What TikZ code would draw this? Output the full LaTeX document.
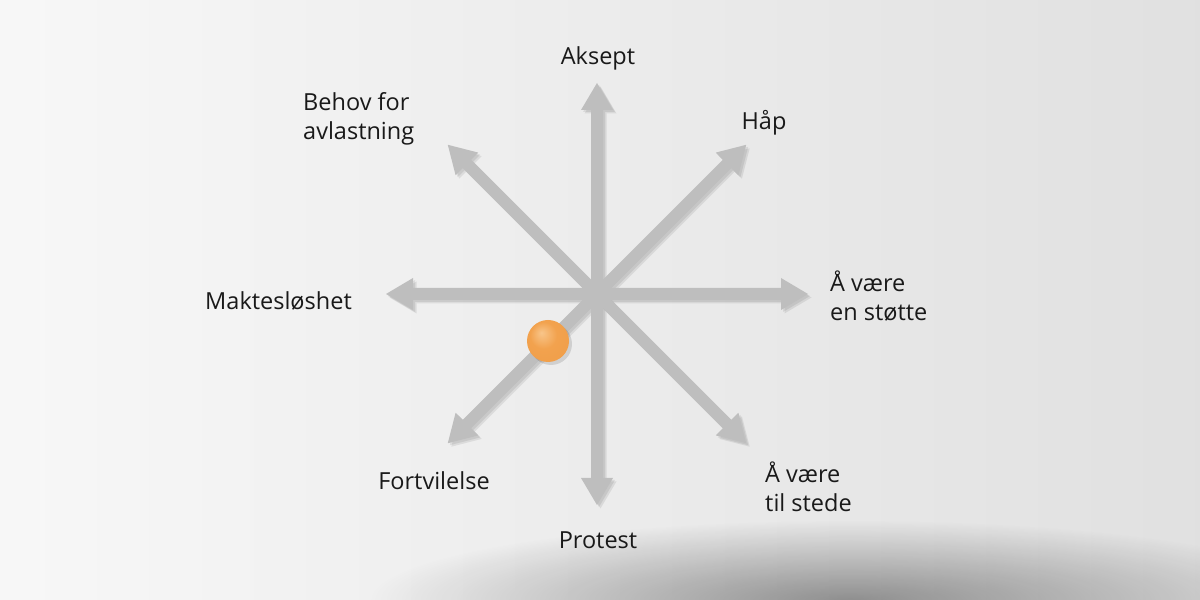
\documentclass[tikz,border=0pt]{standalone}
\usepackage{fontspec}
\setmainfont{Open Sans}
\usetikzlibrary{fadings,calc}
\definecolor{spokegray}{HTML}{BEBEBE}
\definecolor{ballhi}{HTML}{F8C58A}
\definecolor{ballmid}{HTML}{F2A24E}
\definecolor{ballrim}{HTML}{E58A2E}
\pgfdeclareradialshading{orangeball}{\pgfpoint{-8bp}{10bp}}{%
  color(0bp)=(ballhi); color(16bp)=(ballmid);
  color(40bp)=(ballmid!80!ballrim); color(50bp)=(ballrim)}
\tikzfading[name=softoval, inner color=transparent!0, outer color=transparent!100]
\tikzset{
  spoke/.style={fill=spokegray},
  spokeshade/.style={fill=black, fill opacity=.08},
  lbl/.style={font=\fontsize{23.5}{29}\selectfont, text=black!90, align=left, inner sep=0pt},
}
% one arrow from the hub, pointing along +x
\newcommand{\spokepath}{(0,-6) -- (184,-6) -- (184,-16) -- (211,0) -- (184,16) -- (184,6) -- (0,6) -- cycle}

\begin{document}
\begin{tikzpicture}[x=1pt,y=1pt]
\useasboundingbox (0,0) rectangle (1200,600);
% background
\shade[left color=black!3, right color=black!12] (0,0) rectangle (1200,600);
\begin{scope}
\clip (0,0) rectangle (1200,600);
\fill[black, fill opacity=.38, path fading=softoval] (850,0) ellipse (480 and 80);
\end{scope}

\coordinate (hub) at (597,306);
% shadows first, then the spokes
\foreach \a in {0,45,...,315}{
  \fill[spokeshade, shift={($(hub)+(2,-2)$)}, rotate=\a] \spokepath;
  \fill[spokeshade, shift={($(hub)+(3.5,-3.5)$)}, rotate=\a] \spokepath;
}
\foreach \a in {0,45,...,315}
  \fill[spoke, shift={(hub)}, rotate=\a] \spokepath;
\fill[spoke] (hub) circle (11);

% ball on the lower-left spoke
\fill[black, fill opacity=.12] (551,256) circle (21);
\shade[shading=orangeball] (548,259) coordinate (ball) circle (21);

% labels
\node[lbl] (aksept) at (598,542) {Aksept};
\node[lbl, anchor=west] (behov) at (303,481) {Behov for\\avlastning};
\node[lbl] (haap) at (764,477) {Håp};
\node[lbl, anchor=east] (makt) at (352,299) {Maktesløshet};
\node[lbl, anchor=west] (stotte) at (830,304) {Å være\\en støtte};
\node[lbl] (fortvil) at (434,119) {Fortvilelse};
\node[lbl] (protest) at (598,60) {Protest};
\node[lbl, anchor=west] (stede) at (765,113) {Å være\\til stede};
\end{tikzpicture}
\end{document}
